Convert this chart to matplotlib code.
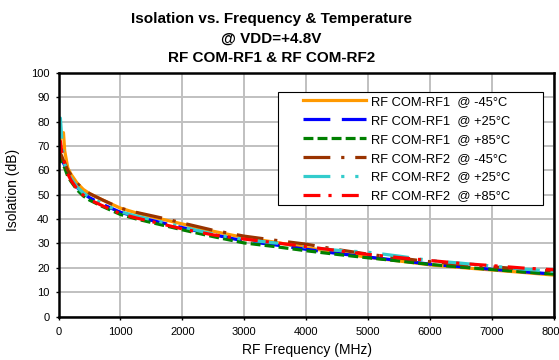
import matplotlib
matplotlib.use("Agg")
import matplotlib.pyplot as plt
from matplotlib.patches import Rectangle


# =========================
# Data
# =========================
FREQ = [10, 30, 50, 80, 100, 150, 200, 300, 400, 500, 700, 1000, 1250, 1500,
        1750, 2000, 2500, 3000, 3500, 4000, 4500, 5000, 5500, 6000, 6500,
        7000, 7500, 8000]

RF1_M45 = [71, 73, 74.5, 75.5, 68, 61, 58.5, 54.8, 52.2, 50.5, 48, 44.5, 42.6,
           41, 39.5, 38, 35, 32.4, 30.5, 28.3, 26.2, 24.3, 22.8, 21.2, 20.1,
           19.1, 18.1, 17.0]
RF1_P25 = [69, 66, 64.5, 63, 62, 58.8, 56.7, 53, 50.5, 48.8, 46.2, 42.8, 41,
           39.5, 38, 36.5, 33.6, 31, 29.4, 27.6, 25.9, 24.4, 23, 21.5, 20.4,
           19.4, 18.4, 17.4]
RF1_P85 = [67, 65, 63.5, 62, 61, 57.5, 55.5, 52, 49.5, 47.8, 45.3, 41.9, 40.1,
           38.6, 37.1, 35.6, 32.8, 30.2, 28.7, 27, 25.5, 24.1, 22.8, 21.4, 20.3,
           19.3, 18.3, 17.4]
RF2_M45 = [68, 67, 66, 64, 63, 60, 58.2, 54.7, 52.2, 50.5, 48, 44.5, 42.8,
           41.4, 40, 38.4, 35.4, 33, 31.3, 29.7, 27.5, 25.6, 24, 22.5, 21.4,
           20.4, 19.5, 18.7]
RF2_P25 = [79, 81.5, 74, 64, 62.5, 59, 56.8, 53.2, 50.7, 49, 46.5, 43, 41.3,
           39.8, 38.3, 36.8, 33.8, 31.6, 30.2, 28.5, 27.2, 26.4, 24.8, 23, 21.9,
           20.7, 19.5, 18.5]
RF2_P85 = [70, 72, 68, 65.5, 63, 58.5, 56, 52.3, 49.8, 48, 45.6, 42.2, 40.5,
           39, 37.5, 36, 33.5, 31.8, 30.3, 28.7, 27.1, 25.5, 24.2, 23, 21.8,
           20.9, 19.9, 19.2]

SERIES = [
    ("RF COM-RF1  @ -45°C", RF1_M45),
    ("RF COM-RF1  @ +25°C", RF1_P25),
    ("RF COM-RF1  @ +85°C", RF1_P85),
    ("RF COM-RF2  @ -45°C", RF2_M45),
    ("RF COM-RF2  @ +25°C", RF2_P25),
    ("RF COM-RF2  @ +85°C", RF2_P85),
]

TITLE_LINES = [
    "Isolation vs. Frequency & Temperature",
    "@ VDD=+4.8V",
    "RF COM-RF1 & RF COM-RF2",
]

LW = 2.3
STYLES = [
    dict(color="#FF9900", linestyle="-"),
    dict(color="#0000FF", linestyle=(0, (8.4, 3.6))),
    dict(color="#008000", linestyle=(0, (3.1, 1.3))),
    dict(color="#993300", linestyle=(0, (8.4, 3.4, 1.0, 3.4))),
    dict(color="#33CCCC", linestyle=(0, (8.4, 3.4, 1.0, 3.4, 1.0, 3.4))),
    dict(color="#FF0000", linestyle=(0, (5.3, 2.5, 1.0, 3.2))),
]

plt.rcParams.update({
    "font.family": ["Liberation Sans", "DejaVu Sans"],
    "font.size": 8,
})

fig = plt.figure(figsize=(5.59, 3.60), dpi=100)
ax = fig.add_axes([0.1047, 0.1208, 0.8863, 0.6764])

for (label, vals), st in zip(SERIES, STYLES):
    ax.plot(FREQ, vals, label=label, linewidth=LW, color=st["color"],
            linestyle=st["linestyle"], dash_capstyle="butt", zorder=2)

ax.set_xlim(0, 8000)
ax.set_ylim(0, 100)
ax.set_xticks(range(0, 8001, 1000))
ax.set_yticks(range(0, 101, 10))

ax.grid(True, color="#C0C0C0", linewidth=1.4, zorder=0)
ax.set_axisbelow(True)
for spine in ax.spines.values():
    spine.set_linewidth(1.8)
    spine.set_color("black")
ax.tick_params(axis="both", direction="out", length=2.5, width=1.0,
               labelsize=8, colors="black")
ax.tick_params(axis="x", pad=5)
ax.tick_params(axis="y", pad=4)

# legend box (Excel style: wide white frame)
ax.add_patch(Rectangle((0.443, 0.458), 0.535, 0.464, transform=ax.transAxes,
                       facecolor="white", edgecolor="black", linewidth=0.8,
                       zorder=4))
leg = ax.legend(loc="upper left", bbox_to_anchor=(0.4934, 0.906),
                frameon=False, fontsize=9.3, handlelength=4.9,
                handletextpad=0.4, borderpad=0, borderaxespad=0,
                labelspacing=0.53)
leg.set_zorder(5)

# titles and axis labels
title_y = [0.9353, 0.8814, 0.8264]
for txt, y in zip(TITLE_LINES, title_y):
    fig.text(0.4857, y, txt, ha="center", va="baseline", fontsize=11,
             fontweight="bold")

fig.text(13 / 559, 0.4722, "Isolation (dB)", rotation=90, ha="center",
         va="center", fontsize=10)
fig.text(0.5487, 0.0278, "RF Frequency (MHz)", ha="center", va="center",
         fontsize=10)

fig.savefig("out.png", dpi=100)
plt.close(fig)
